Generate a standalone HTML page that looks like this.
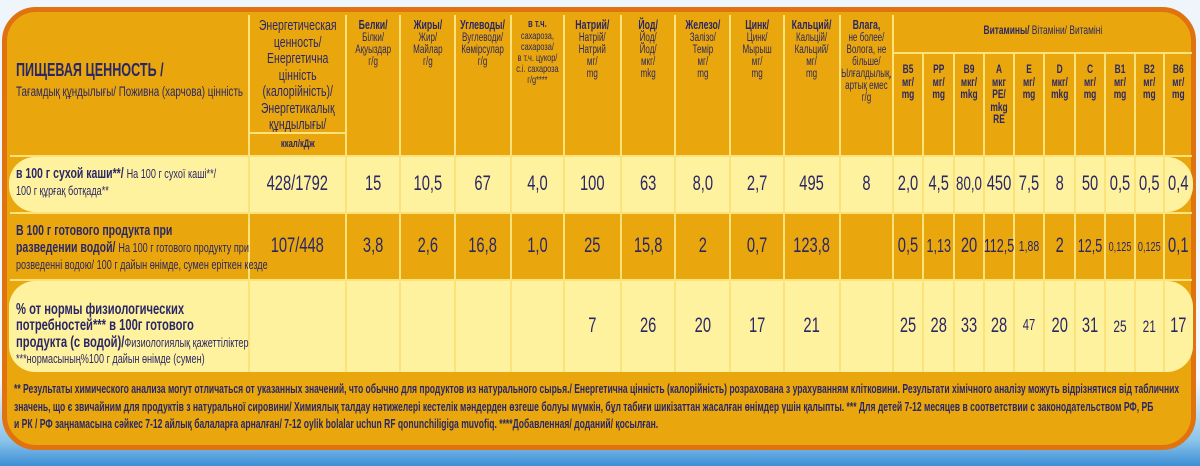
<!DOCTYPE html>
<html><head><meta charset="utf-8"><style>
*{margin:0;padding:0;box-sizing:border-box}
body{width:1200px;height:466px;overflow:hidden;position:relative;background:linear-gradient(#eef5fb 0,#f4f8fb 380px,#8cc4ea 440px,#3b8fd6 466px);font-family:"Liberation Sans","Noto Sans CJK SC",sans-serif;color:#2a2766}
.box{position:absolute;left:2px;top:7px;width:1194px;height:443px;background:#e9a70d;border:5px solid #e0720f;border-radius:34px}
.band{position:absolute;left:9px;width:1184px;background:#fff29f;border-radius:26px}
.v{position:absolute;width:2px;background:#fbe27a}
.h{position:absolute;height:2px;background:#fbe27a}
.c{position:absolute;text-align:center;line-height:1.05;left:calc(var(--l)*1px - var(--w)*0.2143px);width:calc(var(--w)*1.4286px);transform:scaleX(.7);transform-origin:center}
.hd{font-size:12.5px;font-weight:bold;top:19px}
.hd span{font-weight:normal;font-size:11.5px;display:block}
.d{font-size:21px;display:flex;align-items:center;justify-content:center;white-space:nowrap}
.r1{top:157px;height:55px}.r2{top:214px;height:65px}.r3{top:281px;height:91px}
.lab{position:absolute;left:16px;font-weight:bold;font-size:15px;line-height:1.12;transform:scaleX(.7);transform-origin:left top;white-space:nowrap}
.lab span{font-weight:normal;font-size:13px}
.fn{position:absolute;left:14px;top:381px;font-size:12.5px;line-height:17.5px;font-weight:bold;white-space:nowrap;transform:scaleX(.685);transform-origin:left top}
.vt{top:63px;font-size:12px;font-weight:bold;line-height:1.05}
</style></head><body>
<div class="box"></div>
<div class="band" style="top:157px;height:55px"></div>
<div class="band" style="top:281px;height:91px"></div>
<div class="h" style="left:10px;width:1182px;top:155px"></div>
<div class="h" style="left:10px;width:1182px;top:212px"></div>
<div class="h" style="left:10px;width:1182px;top:279px"></div>
<div class="h" style="left:249px;width:97px;top:132px"></div>
<div class="h" style="left:893px;width:299px;top:52px"></div>
<div class="v" style="left:248px;top:15px;height:357px"></div>
<div class="v" style="left:345px;top:15px;height:357px"></div>
<div class="v" style="left:399px;top:15px;height:357px"></div>
<div class="v" style="left:454px;top:15px;height:357px"></div>
<div class="v" style="left:510px;top:15px;height:357px"></div>
<div class="v" style="left:563px;top:15px;height:357px"></div>
<div class="v" style="left:620px;top:15px;height:357px"></div>
<div class="v" style="left:674px;top:15px;height:357px"></div>
<div class="v" style="left:729px;top:15px;height:357px"></div>
<div class="v" style="left:783px;top:15px;height:357px"></div>
<div class="v" style="left:839px;top:15px;height:357px"></div>
<div class="v" style="left:892px;top:15px;height:357px"></div>
<div class="v" style="left:922px;top:53px;height:319px"></div>
<div class="v" style="left:953px;top:53px;height:319px"></div>
<div class="v" style="left:983px;top:53px;height:319px"></div>
<div class="v" style="left:1013px;top:53px;height:319px"></div>
<div class="v" style="left:1043px;top:53px;height:319px"></div>
<div class="v" style="left:1074px;top:53px;height:319px"></div>
<div class="v" style="left:1104px;top:53px;height:319px"></div>
<div class="v" style="left:1134px;top:53px;height:319px"></div>
<div class="v" style="left:1163px;top:53px;height:319px"></div>

<div class="lab" style="top:60px;font-size:18px">ПИЩЕВАЯ ЦЕННОСТЬ /<br><span style="font-size:14px">Тағамдық құндылығы/ Поживна (харчова) цінність</span></div>
<div class="c" style="--l:248;--w:99;top:18px;font-size:15px;line-height:1.1">Энергетическая ценность/ Енергетична цінність (калорійність)/ Энергетикалық құндылығы/</div>
<div class="c" style="--l:250;--w:95;top:139px;font-size:11px;font-weight:bold">ккал/кДж</div>
<div class="c hd" style="--l:347;--w:52">Белки/<span>Білки/<br>Ақуыздар<br>г/g</span></div>
<div class="c hd" style="--l:401;--w:53">Жиры/<span>Жир/<br>Майлар<br>г/g</span></div>
<div class="c hd" style="--l:456;--w:54">Углеводы/<span>Вуглеводи/<br>Көмірсулар<br>г/g</span></div>
<div class="c hd" style="--l:512;--w:51;font-size:11px">в т.ч.<span style="font-size:10.5px">сахароза,<br>сахароза/<br>в т.ч. цукор/<br>с.і. сахароза<br>г/g****</span></div>
<div class="c hd" style="--l:565;--w:55">Натрий/<span>Натрій/<br>Натрий<br>мг/<br>mg</span></div>
<div class="c hd" style="--l:622;--w:52">Йод/<span>Йод/<br>Йод/<br>мкг/<br>mkg</span></div>
<div class="c hd" style="--l:676;--w:53">Железо/<span>Залізо/<br>Темір<br>мг/<br>mg</span></div>
<div class="c hd" style="--l:731;--w:52">Цинк/<span>Цинк/<br>Мырыш<br>мг/<br>mg</span></div>
<div class="c hd" style="--l:785;--w:54">Кальций/<span>Кальцій/<br>Кальций/<br>мг/<br>mg</span></div>
<div class="c hd" style="--l:841;--w:51">Влага,<span>не более/<br>Вологa, не<br>більше/<br>Ылғалдылық,<br>артық емес<br>г/g</span></div>
<div class="c" style="--l:894;--w:298;top:24px;font-size:12px;font-weight:bold">Витамины/ <span style="font-weight:normal">Вітаміни/ Витаміні</span></div>
<div class="c vt" style="--l:894;--w:28">B5<br>мг/<br>mg</div>
<div class="c vt" style="--l:924;--w:29">PP<br>мг/<br>mg</div>
<div class="c vt" style="--l:955;--w:28">B9<br>мкг/<br>mkg</div>
<div class="c vt" style="--l:985;--w:28">A<br>мкг<br>PE/<br>mkg<br>RE</div>
<div class="c vt" style="--l:1015;--w:28">E<br>мг/<br>mg</div>
<div class="c vt" style="--l:1045;--w:29">D<br>мкг/<br>mkg</div>
<div class="c vt" style="--l:1076;--w:28">C<br>мг/<br>mg</div>
<div class="c vt" style="--l:1106;--w:28">B1<br>мг/<br>mg</div>
<div class="c vt" style="--l:1136;--w:27">B2<br>мг/<br>mg</div>
<div class="c vt" style="--l:1165;--w:27">B6<br>мг/<br>mg</div>

<div class="lab" style="top:166px">в 100 г сухой каши**/ <span>На 100 г сухої каші**/<br>100 г құрғақ ботқада**</span></div>
<div class="lab" style="top:223px">В 100 г готового продукта при<br>разведении водой/ <span>На 100 г готового продукту при<br>розведенні водою/ 100 г дайын өнімде, сумен еріткен кезде</span></div>
<div class="lab" style="top:302px;line-height:1.02;font-size:16px">% от нормы физиологических<br>потребностей*** в 100г готового<br>продукта (с водой)/<span>Физиологиялық қажеттіліктер<br>***нормасының%100 г дайын өнімде (сумен)</span></div>

<div class="c d r1" style="--l:249;--w:97">428/1792</div>
<div class="c d r1" style="--l:347;--w:52">15</div>
<div class="c d r1" style="--l:401;--w:53">10,5</div>
<div class="c d r1" style="--l:456;--w:54">67</div>
<div class="c d r1" style="--l:512;--w:51">4,0</div>
<div class="c d r1" style="--l:565;--w:55">100</div>
<div class="c d r1" style="--l:622;--w:52">63</div>
<div class="c d r1" style="--l:676;--w:53">8,0</div>
<div class="c d r1" style="--l:731;--w:52">2,7</div>
<div class="c d r1" style="--l:785;--w:54">495</div>
<div class="c d r1" style="--l:841;--w:51">8</div>
<div class="c d r1" style="--l:894;--w:28">2,0</div>
<div class="c d r1" style="--l:924;--w:29">4,5</div>
<div class="c d r1" style="--l:955;--w:28;font-size:19px">80,0</div>
<div class="c d r1" style="--l:985;--w:28">450</div>
<div class="c d r1" style="--l:1015;--w:28">7,5</div>
<div class="c d r1" style="--l:1045;--w:29">8</div>
<div class="c d r1" style="--l:1076;--w:28">50</div>
<div class="c d r1" style="--l:1106;--w:28">0,5</div>
<div class="c d r1" style="--l:1136;--w:27">0,5</div>
<div class="c d r1" style="--l:1165;--w:27">0,4</div>

<div class="c d r2" style="--l:249;--w:97">107/448</div>
<div class="c d r2" style="--l:347;--w:52">3,8</div>
<div class="c d r2" style="--l:401;--w:53">2,6</div>
<div class="c d r2" style="--l:456;--w:54">16,8</div>
<div class="c d r2" style="--l:512;--w:51">1,0</div>
<div class="c d r2" style="--l:565;--w:55">25</div>
<div class="c d r2" style="--l:622;--w:52">15,8</div>
<div class="c d r2" style="--l:676;--w:53">2</div>
<div class="c d r2" style="--l:731;--w:52">0,7</div>
<div class="c d r2" style="--l:785;--w:54">123,8</div>
<div class="c d r2" style="--l:894;--w:28">0,5</div>
<div class="c d r2" style="--l:924;--w:29;font-size:18px">1,13</div>
<div class="c d r2" style="--l:955;--w:28">20</div>
<div class="c d r2" style="--l:985;--w:28;font-size:18px">112,5</div>
<div class="c d r2" style="--l:1015;--w:28;font-size:15px">1,88</div>
<div class="c d r2" style="--l:1045;--w:29">2</div>
<div class="c d r2" style="--l:1076;--w:28;font-size:18px">12,5</div>
<div class="c d r2" style="--l:1106;--w:28;font-size:13px">0,125</div>
<div class="c d r2" style="--l:1136;--w:27;font-size:13px">0,125</div>
<div class="c d r2" style="--l:1165;--w:27">0,1</div>

<div class="c d r3" style="--l:565;--w:55">7</div>
<div class="c d r3" style="--l:622;--w:52">26</div>
<div class="c d r3" style="--l:676;--w:53">20</div>
<div class="c d r3" style="--l:731;--w:52">17</div>
<div class="c d r3" style="--l:785;--w:54">21</div>
<div class="c d r3" style="--l:894;--w:28">25</div>
<div class="c d r3" style="--l:924;--w:29">28</div>
<div class="c d r3" style="--l:955;--w:28">33</div>
<div class="c d r3" style="--l:985;--w:28">28</div>
<div class="c d r3" style="--l:1015;--w:28;font-size:16px">47</div>
<div class="c d r3" style="--l:1045;--w:29">20</div>
<div class="c d r3" style="--l:1076;--w:28">31</div>
<div class="c d r3" style="--l:1106;--w:28;font-size:17px">25</div>
<div class="c d r3" style="--l:1136;--w:27;font-size:17px">21</div>
<div class="c d r3" style="--l:1165;--w:27">17</div>

<div class="fn">** Результаты химического анализа могут отличаться от указанных значений, что обычно для продуктов из натурального сырья./ Енергетична цінність (калорійність) розрахована з урахуванням клітковини. Результати хімічного аналізу можуть відрізнятися від табличних<br>значень, що є звичайним для продуктів з натуральної сировини/ Химиялық талдау нәтижелері кестелік мәндерден өзгеше болуы мүмкін, бұл табиғи шикізаттан жасалған өнімдер үшін қалыпты. *** Для детей 7-12 месяцев в соответствии с законодательством РФ, РБ<br>и РК / РФ заңнамасына сәйкес 7-12 айлық балаларға арналған/ 7-12 oylik bolalar uchun RF qonunchiligiga muvofiq. ****Добавленная/ доданий/ қосылған.</div>
</body></html>
